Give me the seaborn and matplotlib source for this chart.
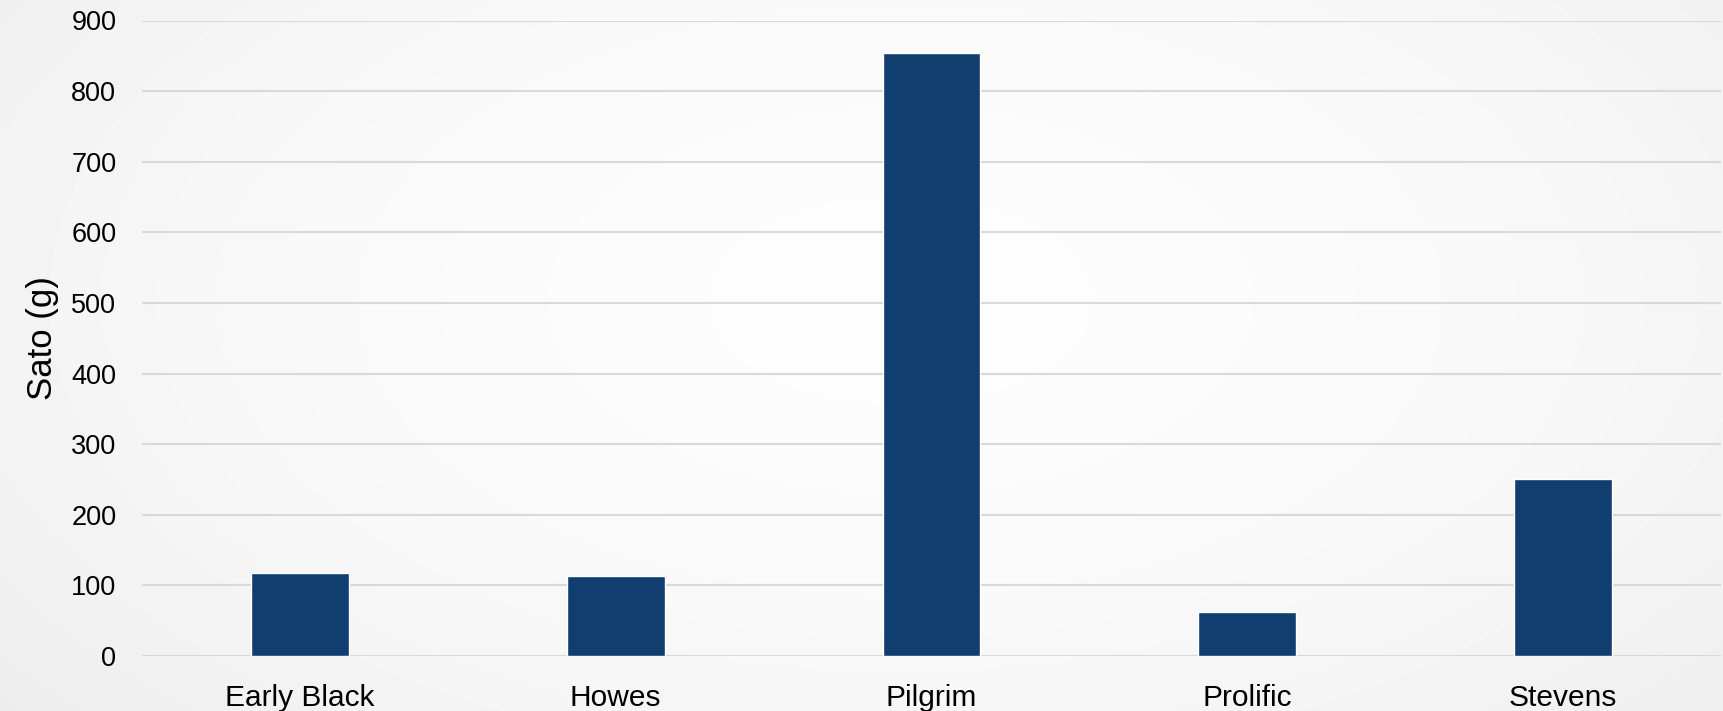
import numpy as np
import pandas as pd
import matplotlib
matplotlib.use("Agg")
import matplotlib.pyplot as plt
import seaborn as sns

categories = ["Early Black", "Howes", "Pilgrim", "Prolific", "Stevens"]
values = [117, 114, 854, 62, 250]
y_ticks = [0, 100, 200, 300, 400, 500, 600, 700, 800, 900]
y_label = "Sato (g)"

df = pd.DataFrame({"cat": categories, "val": values})

sns.set_theme(style="white")
plt.rcParams['font.family'] = ['Liberation Sans', 'DejaVu Sans']

fig = plt.figure(figsize=(17.23, 7.11), dpi=100)

# background radial gradient
bg = fig.add_axes([0, 0, 1, 1], zorder=-10)
yy, xx = np.mgrid[0:711, 0:1723]
r = np.sqrt(((xx - 900) / 1100.0) ** 2 + ((yy - 300) / 600.0) ** 2)
img = 0.99 - 0.055 * np.clip(r, 0, 1.3) ** 2
bg.imshow(img, cmap="gray", vmin=0, vmax=1, aspect="auto", extent=[0, 1, 0, 1])
bg.axis("off")

ax = fig.add_axes([142 / 1723, 1 - 656 / 711, (1721 - 142) / 1723, (656 - 20.5) / 711])
ax.patch.set_alpha(0)

sns.barplot(data=df, x="cat", y="val", color="#0f3e6f", saturation=1, width=0.31, ax=ax)

ax.set_xlim(-0.5, len(categories) - 0.5)
ax.set_ylim(0, 900)
ax.set_yticks(y_ticks)
ax.yaxis.grid(True, color="#d9d9d9", linewidth=1.5)
ax.set_axisbelow(True)
for s in ax.spines.values():
    s.set_visible(False)
ax.tick_params(axis="both", length=0, colors="black")
ax.tick_params(axis="y", pad=18.5, labelsize=19.5)
ax.tick_params(axis="x", pad=20, labelsize=21.5)
ax.set_xlabel("")
ax.set_ylabel(y_label, fontsize=25, labelpad=9, color="black")

fig.savefig("out.png", dpi=100)
